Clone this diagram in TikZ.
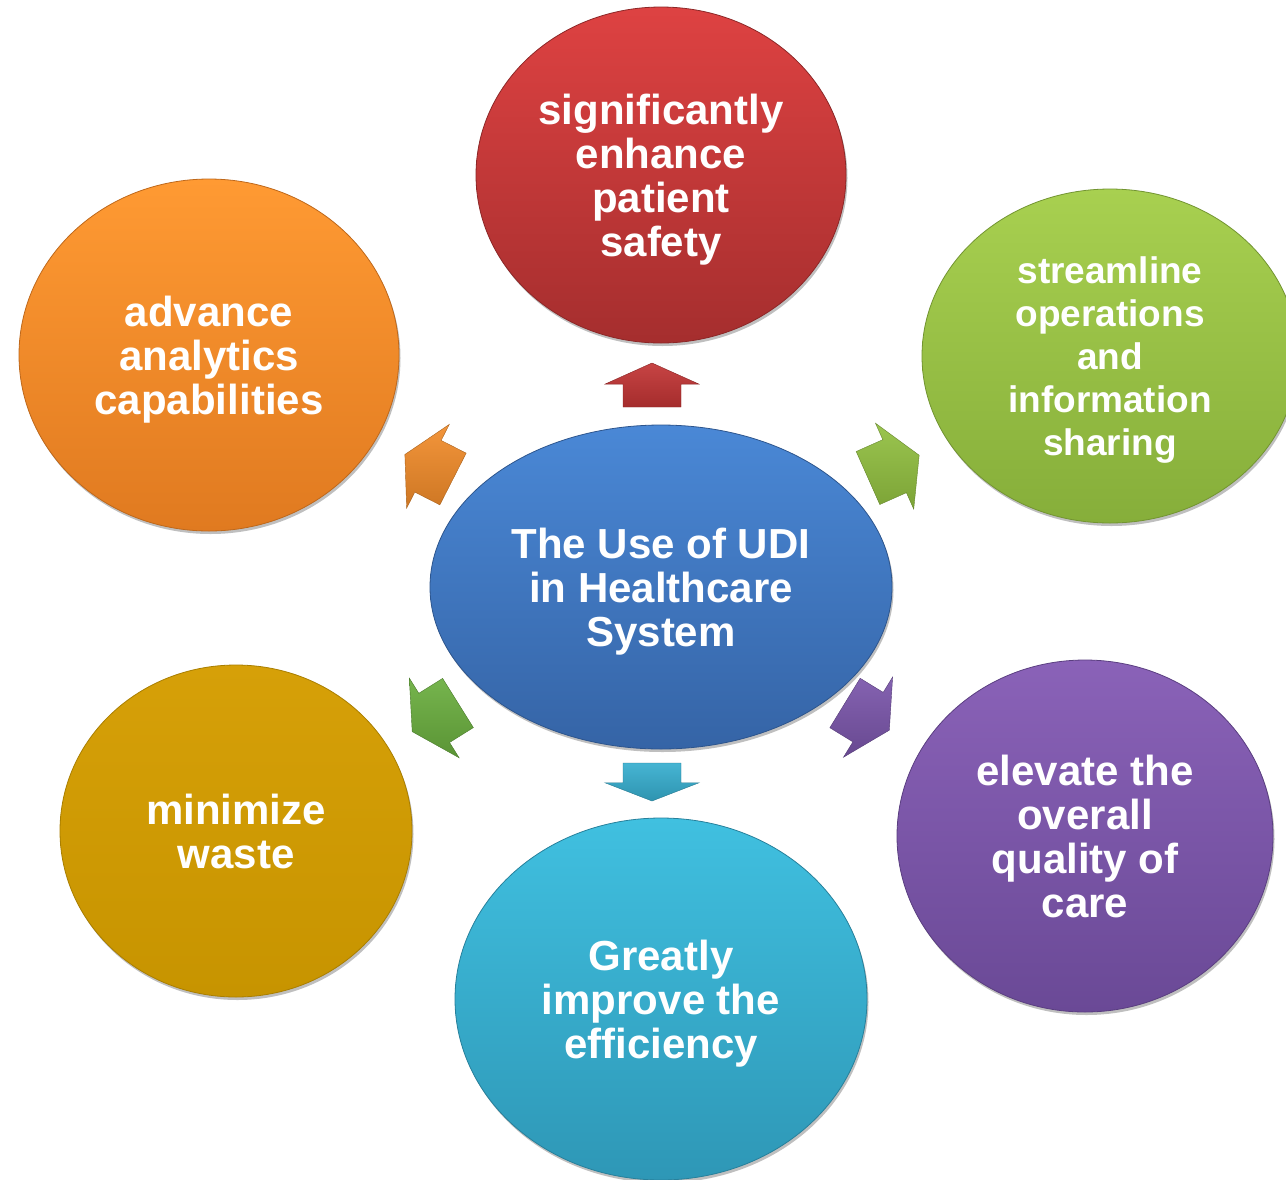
\documentclass[tikz,border=0pt]{standalone}
\usepackage{fontspec}
\setmainfont{Liberation Sans}
\usetikzlibrary{shapes.geometric,shadows}
\definecolor{blueT}{HTML}{4A88D6}\definecolor{blueB}{HTML}{3564A6}
\definecolor{redT}{HTML}{DE4242}\definecolor{redB}{HTML}{A52E2E}
\definecolor{greenT}{HTML}{A8D050}\definecolor{greenB}{HTML}{86AE3A}
\definecolor{orangeT}{HTML}{FF9A33}\definecolor{orangeB}{HTML}{E07A20}
\definecolor{goldT}{HTML}{D6A008}\definecolor{goldB}{HTML}{C79400}
\definecolor{cyanT}{HTML}{40C0E0}\definecolor{cyanB}{HTML}{2E97B6}
\definecolor{purpleT}{HTML}{8A62B8}\definecolor{purpleB}{HTML}{6A4996}
\definecolor{arRed}{HTML}{C23434}\definecolor{arCyan}{HTML}{36AECF}
\definecolor{arOrange}{HTML}{F28C2A}\definecolor{arLime}{HTML}{92C040}
\definecolor{arGreen}{HTML}{6AAE3E}\definecolor{arPurple}{HTML}{7A55AA}
\tikzset{
  bubble/.style={ellipse, inner sep=0pt, text=white, align=center, text depth=0pt,
    font=\bfseries\fontsize{42}{44}\selectfont,
    drop shadow={shadow xshift=1.5pt, shadow yshift=-3pt, opacity=0.25, fill=black}},
  bubblecol/.style n args={2}{top color=#1, bottom color=#2, draw=#2!85!black, line width=0.8pt},
  arrowshape/.style={draw=#1!70!black, line width=0.4pt, top color=#1!92!white, bottom color=#1!85!black}
}
% x, y (px), angle, length, colour
\newcommand\udiarrow[5]{%
  \begin{scope}[shift={(#1,#2)}, rotate=#3]
    \path[arrowshape=#5] (0,-29) -- ({0.52*#4},-29) -- ({0.52*#4},-47) -- (#4,0)
      -- ({0.52*#4},47) -- ({0.52*#4},29) -- (0,29) -- cycle;
  \end{scope}}
\begin{document}
\begin{tikzpicture}[x=1pt,y=-1pt]
\useasboundingbox (0,0) rectangle (1286,1179);
\clip (0,0) rectangle (1286,1179);
% arrows
\udiarrow{652}{407}{90}{44}{arRed}
\udiarrow{652}{763}{-90}{38}{arCyan}
\udiarrow{453}{479}{153}{54}{arOrange}
\udiarrow{868}{478}{24}{56}{arLime}
\udiarrow{458}{703}{212}{54}{arGreen}
\udiarrow{845}{703}{-31.5}{52}{arPurple}
% bubbles
\node[bubble, bubblecol={blueT}{blueB}, minimum width=462pt, minimum height=324pt] (center) at (661,587)
  {The Use of UDI\\in Healthcare\\System};
\node[bubble, bubblecol={redT}{redB}, minimum width=370pt, minimum height=336pt] (safety) at (661,175)
  {significantly\\enhance\\patient\\safety};
\node[bubble, bubblecol={greenT}{greenB}, minimum width=376pt, minimum height=334pt,
  font=\bfseries\fontsize{37}{43}\selectfont] (stream) at (1110,356)
  {streamline\\operations\\and\\information\\sharing};
\node[bubble, bubblecol={orangeT}{orangeB}, minimum width=380pt, minimum height=352pt] (analytics) at (209,355)
  {advance\\analytics\\capabilities};
\node[bubble, bubblecol={goldT}{goldB}, minimum width=352pt, minimum height=332pt] (waste) at (236,831)
  {minimize\\waste};
\node[bubble, bubblecol={cyanT}{cyanB}, minimum width=412pt, minimum height=362pt] (eff) at (661,999)
  {Greatly\\improve the\\efficiency};
\node[bubble, bubblecol={purpleT}{purpleB}, minimum width=376pt, minimum height=352pt] (quality) at (1085,836)
  {elevate the\\overall\\quality of\\care};
\end{tikzpicture}
\end{document}
